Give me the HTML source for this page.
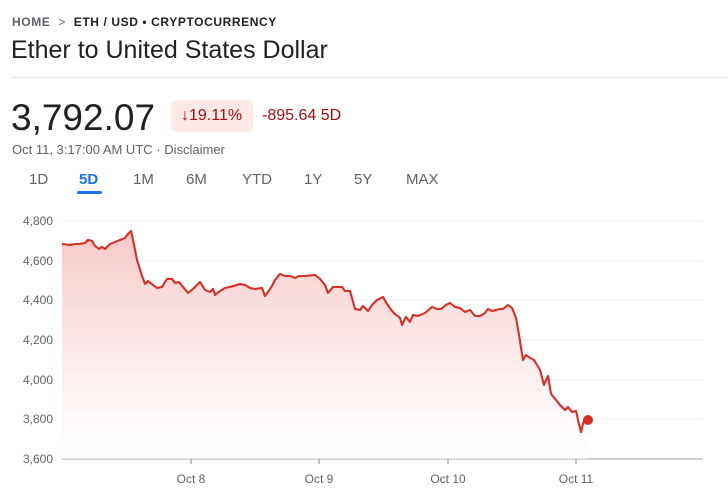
<!DOCTYPE html>
<html><head><meta charset="utf-8"><style>
body{margin:0;width:728px;height:496px;background:#fff;font-family:"Liberation Sans",Arial,sans-serif;position:relative;overflow:hidden;color:#202124}
.a{position:absolute;white-space:nowrap}
</style></head><body>
<div class="a" style="left:12px;top:15px;font-size:12px;font-weight:bold;letter-spacing:0.6px;color:#202124"><span style="color:#5f6368">HOME</span>&nbsp;&nbsp;<span style="color:#5f6368;font-weight:normal">&gt;</span>&nbsp; ETH / USD • CRYPTOCURRENCY</div>
<div class="a" style="left:11px;top:36px;font-size:25px">Ether to United States Dollar</div>
<div class="a" style="left:12px;top:77px;width:716px;height:1px;background:#e8eaed"></div>
<div class="a" style="left:11px;top:97px;font-size:37px">3,792.07</div>
<div class="a" style="left:171px;top:100px;width:82px;height:32px;background:#fce8e6;border-radius:6px"></div>
<div class="a" style="left:181px;top:107px;font-size:16px;color:#a50e0e">↓19.11%</div>
<div class="a" style="left:262px;top:107px;font-size:16px;color:#a50e0e">-895.64 5D</div>
<div class="a" style="left:12px;top:142px;font-size:13px;color:#5f6368">Oct 11, 3:17:00 AM UTC · Disclaimer</div>
<div class="a" style="left:29px;top:171px;font-size:15px;color:#5f6368;word-spacing:0">1D</div>
<div class="a" style="left:79px;top:171px;font-size:15px;color:#1a73e8;font-weight:bold">5D</div>
<div class="a" style="left:77px;top:191px;width:25px;height:3px;background:#1a73e8;border-radius:2px"></div>
<div class="a" style="left:133px;top:171px;font-size:15px;color:#5f6368">1M</div>
<div class="a" style="left:186px;top:171px;font-size:15px;color:#5f6368">6M</div>
<div class="a" style="left:242px;top:171px;font-size:15px;color:#5f6368">YTD</div>
<div class="a" style="left:304px;top:171px;font-size:15px;color:#5f6368">1Y</div>
<div class="a" style="left:354px;top:171px;font-size:15px;color:#5f6368">5Y</div>
<div class="a" style="left:406px;top:171px;font-size:15px;color:#5f6368">MAX</div>
<svg class="a" style="left:0;top:0" width="728" height="496">
<defs><linearGradient id="g" x1="0" y1="0" x2="0" y2="1"><stop offset="0" stop-color="#f5b9b9"/><stop offset="1" stop-color="#fff" stop-opacity="0.6"/></linearGradient></defs>
<g stroke="#eef0f4" stroke-width="1">
<line x1="62" x2="703" y1="221" y2="221"/><line x1="62" x2="703" y1="261" y2="261"/><line x1="62" x2="703" y1="300" y2="300"/><line x1="62" x2="703" y1="340" y2="340"/><line x1="62" x2="703" y1="380" y2="380"/><line x1="62" x2="703" y1="419" y2="419"/>
</g>
<g font-size="12" fill="#5f6368" text-anchor="end" font-family="Liberation Sans,sans-serif">
<text x="53" y="225">4,800</text><text x="53" y="265">4,600</text><text x="53" y="304">4,400</text><text x="53" y="344">4,200</text><text x="53" y="384">4,000</text><text x="53" y="423">3,800</text><text x="53" y="463">3,600</text>
</g>
<line x1="62" x2="703" y1="459" y2="459" stroke="#9aa0a6"/>
<g stroke="#80868b"><line x1="191" x2="191" y1="459" y2="464"/><line x1="319" x2="319" y1="459" y2="464"/><line x1="448" x2="448" y1="459" y2="464"/><line x1="576" x2="576" y1="459" y2="464"/></g>
<g font-size="12" fill="#5f6368" text-anchor="middle" font-family="Liberation Sans,sans-serif">
<text x="191" y="483">Oct 8</text><text x="319" y="483">Oct 9</text><text x="448" y="483">Oct 10</text><text x="576" y="483">Oct 11</text>
</g>
<path id="p" d="M62,244 L70,245 75,244 80,244 85,243 88,240 92,241 95,246 99,249 102,247 105,249 110,244 115,242 120,240 125,238 128,234 131,231 133,240 137,260 142,276 145,284 148,281 153,285 157,288 162,287 167,279 172,279 175,283 179,282 183,287 188,293 193,289 197,285 200,282 205,290 210,292 213,289 215,295 220,291 225,288 230,287 237,285 240,284 245,285 250,288 255,289 262,288 265,296 268,292 272,286 275,280 280,274 285,276 290,276 295,278 299,276 305,276 315,275 320,279 325,285 328,293 333,287 337,287 342,287 345,291 350,291 355,309 360,310 363,306 368,311 372,305 377,300 383,297 387,304 392,311 395,314 400,318 402,325 406,317 410,322 413,315 418,316 425,313 432,307 437,309 441,309 446,305 450,303 455,307 460,308 465,312 470,310 475,316 480,316 485,313 488,309 492,311 496,310 500,309 503,309 508,305 512,308 516,318 519,335 523,360 526,355 530,358 534,360 540,370 544,385 548,376 551,394 556,400 560,405 565,410 568,407 572,412 576,411 578,420 581,432 583,424 585,418 587,421" fill="none" stroke="#d93025" stroke-width="2" stroke-linejoin="round"/>
<path d="M62,244 L70,245 75,244 80,244 85,243 88,240 92,241 95,246 99,249 102,247 105,249 110,244 115,242 120,240 125,238 128,234 131,231 133,240 137,260 142,276 145,284 148,281 153,285 157,288 162,287 167,279 172,279 175,283 179,282 183,287 188,293 193,289 197,285 200,282 205,290 210,292 213,289 215,295 220,291 225,288 230,287 237,285 240,284 245,285 250,288 255,289 262,288 265,296 268,292 272,286 275,280 280,274 285,276 290,276 295,278 299,276 305,276 315,275 320,279 325,285 328,293 333,287 337,287 342,287 345,291 350,291 355,309 360,310 363,306 368,311 372,305 377,300 383,297 387,304 392,311 395,314 400,318 402,325 406,317 410,322 413,315 418,316 425,313 432,307 437,309 441,309 446,305 450,303 455,307 460,308 465,312 470,310 475,316 480,316 485,313 488,309 492,311 496,310 500,309 503,309 508,305 512,308 516,318 519,335 523,360 526,355 530,358 534,360 540,370 544,385 548,376 551,394 556,400 560,405 565,410 568,407 572,412 576,411 578,420 581,432 583,424 585,418 587,421 L587,459 L62,459 Z" fill="url(#g)" opacity="0.8"/>
<use href="#p"/>
<circle cx="588" cy="420" r="5" fill="#d93025"/>
</svg>
</body></html>
